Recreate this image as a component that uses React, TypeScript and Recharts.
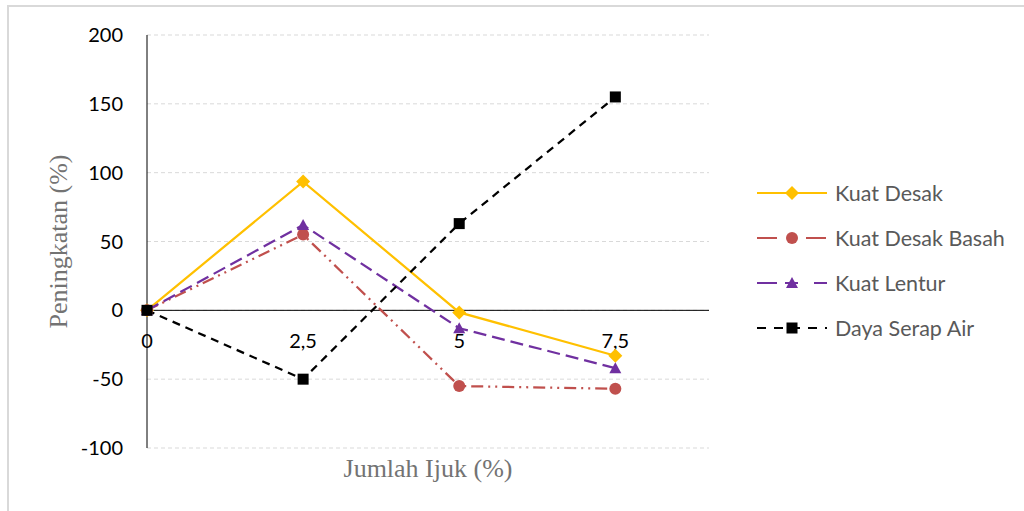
import React from 'react';
import { LineChart, Line, XAxis, YAxis, CartesianGrid, ReferenceLine, ReferenceDot, Legend } from 'recharts';

const xValues = [0, 2.5, 5, 7.5];
const xTickLabels = ['0', '2,5', '5', '7,5'];
const yTicks = [-100, -50, 0, 50, 100, 150, 200];
const kuatDesak = [0, 93.5, -1.5, -33];
const kuatDesakBasah = [0, 55, -55, -57];
const kuatLentur = [0, 62, -13, -42];
const dayaSerapAir = [0, -50, 63, 155];
const seriesNames = ['Kuat Desak', 'Kuat Desak Basah', 'Kuat Lentur', 'Daya Serap Air'];

const data = xValues.map((x, i) => ({
  x,
  kd: kuatDesak[i],
  kdb: kuatDesakBasah[i],
  kl: kuatLentur[i],
  dsa: dayaSerapAir[i],
}));

const series = [
  { key: 'kd', name: seriesNames[0], color: '#FFC000', dash: undefined as string | undefined, legendDash: undefined as string | undefined, marker: 'diamond' },
  { key: 'kdb', name: seriesNames[1], color: '#C0504D', dash: '12 5 2 5 2 5', legendDash: '20 29 20', marker: 'circle' },
  { key: 'kl', name: seriesNames[2], color: '#7030A0', dash: '13 6', legendDash: '20 8 13 16 13', marker: 'triangle' },
  { key: 'dsa', name: seriesNames[3], color: '#000000', dash: '8 6', legendDash: '9 8', marker: 'square' },
];

function Marker({ cx, cy, type, color }: any) {
  if (cx == null || cy == null) return null;
  switch (type) {
    case 'diamond':
      return <path d={`M${cx},${cy - 7}L${cx + 7},${cy}L${cx},${cy + 7}L${cx - 7},${cy}Z`} fill={color} />;
    case 'circle':
      return <circle cx={cx} cy={cy} r={6} fill={color} />;
    case 'triangle':
      return <path d={`M${cx},${cy - 6}L${cx + 6},${cy + 5}L${cx - 6},${cy + 5}Z`} fill={color} />;
    case 'square':
      return <rect x={cx - 5.5} y={cy - 5.5} width={11} height={11} fill={color} />;
    default:
      return null;
  }
}

const renderLegend = () => (
  <div style={{ width: 300 }}>
    {series.map((s) => (
      <div key={s.key} style={{ height: 45, display: 'flex', alignItems: 'center' }}>
        <svg width={70} height={16} style={{ marginLeft: 48, overflow: 'visible' }}>
          <line x1={0} y1={8} x2={70} y2={8} stroke={s.color} strokeWidth={2} strokeDasharray={s.legendDash} />
          <Marker cx={35} cy={8} type={s.marker} color={s.color} />
        </svg>
        <span style={{ marginLeft: 8, fontSize: 21.5, color: '#595959', lineHeight: '22px' }}>{s.name}</span>
      </div>
    ))}
  </div>
);

function YTitle({ viewBox }: any) {
  if (!viewBox) return null;
  const cx = viewBox.x - 29;
  const cy = viewBox.y + viewBox.height / 2;
  return (
    <text
      x={cx}
      y={cy}
      transform={`rotate(-90 ${cx} ${cy})`}
      textAnchor="middle"
      dominantBaseline="central"
      fill="#737373"
      fontSize={26}
      fontFamily="'Liberation Serif', serif"
    >
      Peningkatan (%)
    </text>
  );
}

function XTickLabel({ viewBox, text }: any) {
  if (!viewBox) return null;
  return (
    <text x={viewBox.x + (viewBox.width || 0) / 2} y={viewBox.y + 38} textAnchor="middle" fill="#000" fontSize={20}>
      {text}
    </text>
  );
}

export default function App() {
  return (
    <div style={{ position: 'absolute', left: 0, top: 0, width: 1024, height: 511, fontFamily: 'Lato, sans-serif', background: '#fff' }}>
      <div
        style={{
          position: 'absolute',
          left: 7,
          top: 5,
          width: 1017,
          height: 506,
          borderTop: '2px solid #d9d9d9',
          borderLeft: '2px solid #d9d9d9',
          boxSizing: 'border-box',
        }}
      />
      <LineChart width={1024} height={511} data={data} margin={{ top: 35, right: 15, bottom: 23, left: 87 }}>
        <CartesianGrid vertical={false} stroke="#d9d9d9" strokeDasharray="4 3" />
        <XAxis
          dataKey="x"
          type="number"
          domain={[0, 9]}
          ticks={xValues}
          tick={false}
          axisLine={false}
          tickLine={false}
          height={40}
          label={{ value: 'Jumlah Ijuk (%)', position: 'center', fill: '#737373', fontSize: 26, fontFamily: "'Liberation Serif', serif" }}
        />
        <YAxis
          type="number"
          domain={[-100, 200]}
          ticks={yTicks}
          interval={0}
          width={60}
          axisLine={{ stroke: '#000' }}
          tickLine={false}
          tickSize={0}
          tickMargin={24}
          tick={{ fill: '#000', fontSize: 20 }}
          label={<YTitle />}
        />
        <Legend
          layout="vertical"
          align="right"
          verticalAlign="middle"
          width={300}
          wrapperStyle={{ width: 300, top: 170, right: 15 }}
          content={renderLegend}
        />
        <ReferenceLine y={0} stroke="#000" strokeWidth={1} />
        {xValues.map((x, i) => (
          <ReferenceDot key={`xt-${x}`} x={x} y={0} r={0} fill="none" stroke="none" label={<XTickLabel text={xTickLabels[i]} />} />
        ))}
        {series.map((s) => (
          <Line
            key={s.key}
            type="linear"
            dataKey={s.key}
            name={s.name}
            stroke={s.color}
            strokeWidth={2.25}
            strokeDasharray={s.dash}
            dot={(p: any) => <Marker key={`${s.key}-${p.index}`} cx={p.cx} cy={p.cy} type={s.marker} color={s.color} />}
            activeDot={false}
            isAnimationActive={false}
          />
        ))}
      </LineChart>
    </div>
  );
}
